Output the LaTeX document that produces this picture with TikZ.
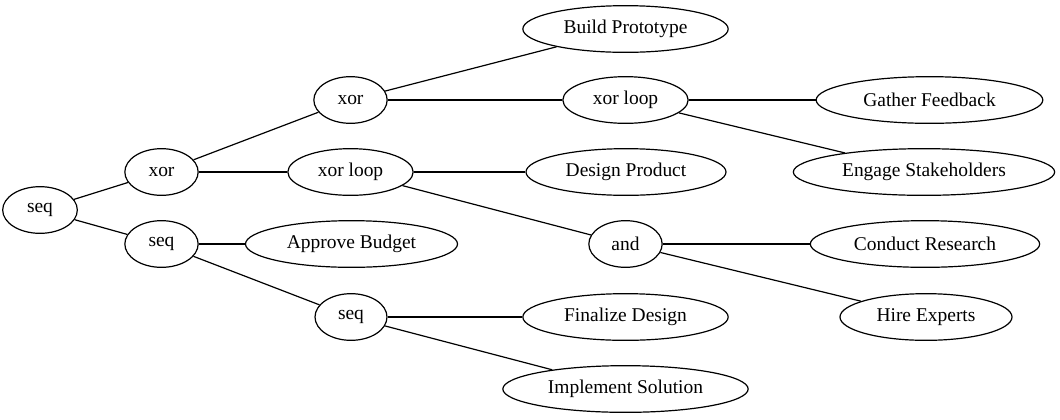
\documentclass[tikz,border=0pt]{standalone}
\usepackage{fontspec}
\setmainfont{Liberation Serif}
\usetikzlibrary{shapes.geometric}
\begin{document}
\begin{tikzpicture}[x=0.75pt,y=-0.75pt,
  nd/.style={draw,ellipse,inner sep=0pt,minimum height=35pt,line width=0.9pt,font=\fontsize{14.6pt}{16pt}\selectfont},
  edge/.style={line width=0.9pt}]
\useasboundingbox (0,0) rectangle (1060,419);
\node[nd,minimum width=56pt,minimum height=35pt] (s1) at (40,210) {seq};
\node[nd,minimum width=55pt] (x1) at (161.5,172) {xor};
\node[nd,minimum width=55pt] (s2) at (161.5,244) {seq};
\node[nd,minimum width=55pt] (x2) at (350.5,100) {xor};
\node[nd,minimum width=94pt] (xl1) at (350.5,172) {xor loop};
\node[nd,minimum width=159pt] (ab) at (351.5,244) {Approve Budget};
\node[nd,minimum width=54pt] (s3) at (351,317) {seq};
\node[nd,minimum width=154pt] (bp) at (625.5,29) {Build Prototype};
\node[nd,minimum width=94pt] (xl2) at (625.5,100) {xor loop};
\node[nd,minimum width=150pt] (dp) at (626,172) {Design Product};
\node[nd,minimum width=55pt] (and) at (625.5,244) {and};
\node[nd,minimum width=154pt] (fd) at (625.5,317) {Finalize Design};
\node[nd,minimum width=184pt] (is) at (625.5,389) {Implement Solution};
\node[nd,minimum width=170pt] (gf) at (929.5,100) {Gather Feedback};
\node[nd,minimum width=196pt] (es) at (924,172) {Engage Stakeholders};
\node[nd,minimum width=172pt] (cr) at (925,244) {Conduct Research};
\node[nd,minimum width=129pt] (he) at (926,317) {Hire Experts};
\draw[edge] (s1) -- (x1);
\draw[edge] (s1) -- (s2);
\draw[edge] (x1) -- (x2);
\draw[edge] (x1) -- (xl1);
\draw[edge] (s2) -- (ab);
\draw[edge] (s2) -- (s3);
\draw[edge] (x2) -- (bp);
\draw[edge] (x2) -- (xl2);
\draw[edge] (xl1) -- (dp);
\draw[edge] (xl1) -- (and);
\draw[edge] (s3) -- (fd);
\draw[edge] (s3) -- (is);
\draw[edge] (xl2) -- (gf);
\draw[edge] (xl2) -- (es);
\draw[edge] (and) -- (cr);
\draw[edge] (and) -- (he);
\end{tikzpicture}
\end{document}
